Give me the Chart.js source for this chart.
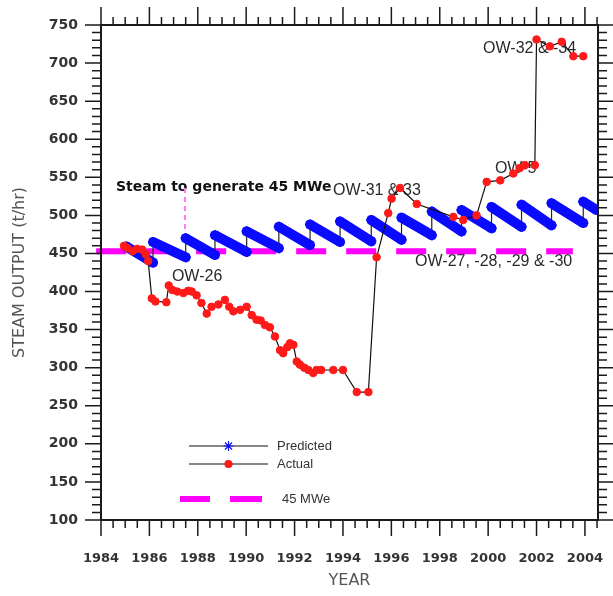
<!DOCTYPE html>
<html>
<head>
<meta charset="utf-8">
<title>Steam output - predicted vs actual</title>
<script src="https://cdn.jsdelivr.net/npm/chart.js@4.4.1/dist/chart.umd.min.js"></script>
<style>
  body { margin: 0; background: #fff; }
  canvas { display: block; }
</style>
</head>
<body>
<canvas id="steamChart" width="613" height="596"></canvas>
<script>
// valores
const xTickYears = [1984, 1986, 1988, 1990, 1992, 1994, 1996, 1998, 2000, 2002, 2004];
const yTickValues = [100, 150, 200, 250, 300, 350, 400, 450, 500, 550, 600, 650, 700, 750];

// previsto: inicio e fim de cada dente da serra
const predictedYears = [
  1985.05, 1986.15, 1986.15, 1987.5, 1987.5, 1988.71, 1988.71, 1990.02,
  1990.02, 1991.35, 1991.35, 1992.64, 1992.64, 1993.88, 1993.88, 1995.17,
  1995.17, 1996.42, 1996.42, 1997.67, 1997.67, 1998.9, 1998.9, 2000.14,
  2000.14, 2001.38, 2001.38, 2002.62, 2002.62, 2003.93, 2003.93, 2004.48
];
const predictedValues = [
  459, 438, 465, 445, 470, 448, 474, 452,
  479, 457, 485, 461, 488, 465, 492, 466,
  494, 468, 497, 474, 505, 479, 507, 483,
  511, 485, 514, 487, 516, 490, 518, 507
];

// medido
const actualYears = [
  1984.95, 1985.1, 1985.3, 1985.5, 1985.7, 1985.85, 1985.95, 1986.1, 1986.25, 1986.7,
  1986.8, 1986.95, 1987.15, 1987.4, 1987.6, 1987.75, 1987.95, 1988.15, 1988.37, 1988.57,
  1988.85, 1989.12, 1989.3, 1989.47, 1989.75, 1990.02, 1990.23, 1990.43, 1990.6, 1990.78,
  1990.98, 1991.19, 1991.4, 1991.53, 1991.7, 1991.81, 1991.95, 1992.09, 1992.22, 1992.4,
  1992.57, 1992.77, 1992.91, 1993.1, 1993.6, 1994.0, 1994.57, 1995.05, 1995.39, 1995.87,
  1996.01, 1996.36, 1997.05, 1998.56, 1998.97, 1999.52, 1999.94, 2000.5, 2001.04, 2001.3,
  2001.52, 2001.93, 2002.0, 2002.55, 2003.04, 2003.52, 2003.93
];
const actualValues = [
  460, 457, 453, 456, 455, 449, 440, 391, 387, 386,
  408, 402, 400, 398, 401, 400, 395, 385, 371, 380,
  383, 389, 380, 374, 376, 380, 369, 363, 362, 356,
  353, 341, 323, 319, 327, 332, 330, 308, 304, 300,
  297, 293, 297, 297, 297, 297, 268, 268, 445, 503,
  522, 536, 515, 498, 494, 500, 544, 546, 555, 562,
  566, 566, 731, 722, 728, 709, 709
];

// linha de 45 MWe
const mweYears = [1983.8, 2003.5];
const mweValues = [453, 453];

// marcador vertical (tracejado) em 1987.5
const markerYears = [1987.47, 1987.47];
const markerValues = [536, 467];

// textos do gráfico
const noteTexts = ['Steam to generate 45 MWe', 'OW-26', 'OW-31 & 33', 'OW-5', 'OW-32 & -34', 'OW-27, -28, -29 & -30'];
const noteYears = [1984.62, 1986.93, 1993.59, 2000.28, 1999.79, 1996.98];
const noteValues = [537, 419, 533, 562, 718.5, 439];

const xMinorStep = 0.5;
const yMinorStep = 10;

function toPoints(xs, ys) {
  return xs.map((x, i) => ({ x: x, y: ys[i] }));
}

// texto das anotações (desenhado por baixo das séries)
const notesPlugin = {
  id: 'notes',
  beforeDatasetsDraw(chart) {
    const { ctx, scales: { x, y } } = chart;
    ctx.save();
    ctx.textBaseline = 'middle';
    ctx.textAlign = 'left';
    noteTexts.forEach((t, i) => {
      if (i === 0) {
        ctx.font = 'bold 14px "DejaVu Sans"';
        ctx.fillStyle = '#111';
      } else {
        ctx.font = '16px "Liberation Sans"';
        ctx.fillStyle = '#2a2a2a';
      }
      ctx.fillText(t, x.getPixelForValue(noteYears[i]), y.getPixelForValue(noteValues[i]));
    });
    ctx.restore();
  }
};

// moldura e marcas de escala nos quatro lados
const framePlugin = {
  id: 'frame',
  afterDatasetsDraw(chart) {
    const { ctx, chartArea: a, scales: { x, y } } = chart;
    ctx.save();
    ctx.strokeStyle = '#1a1a1a';
    ctx.lineWidth = 1.5;
    ctx.beginPath();
    for (let yr = x.min; yr <= x.max + 1e-6; yr += xMinorStep) {
      const px = x.getPixelForValue(yr);
      const major = xTickYears.includes(yr);
      ctx.moveTo(px, a.bottom);
      ctx.lineTo(px, a.bottom + (major ? 16 : 8));
      ctx.moveTo(px, a.top);
      ctx.lineTo(px, a.top - (major ? 18 : 8));
    }
    for (let v = y.min; v <= y.max + 1e-6; v += yMinorStep) {
      const py = y.getPixelForValue(v);
      const major = yTickValues.includes(v);
      ctx.moveTo(a.left, py);
      ctx.lineTo(a.left - (major ? 16 : 9), py);
      ctx.moveTo(a.right, py);
      ctx.lineTo(a.right + (major ? 16 : 9), py);
    }
    ctx.stroke();
    ctx.lineWidth = 2;
    ctx.strokeRect(a.left, a.top, a.right - a.left, a.bottom - a.top);
    ctx.restore();
  }
};

// legenda dentro da área do gráfico
const legendPlugin = {
  id: 'innerLegend',
  afterDatasetsDraw(chart) {
    const { ctx, chartArea: a } = chart;
    const x0 = a.left + 88, x1 = a.left + 167, tx = a.left + 176;
    const rows = [a.top + 421, a.top + 439, a.top + 474];
    ctx.save();
    ctx.font = '13px "Liberation Sans"';
    ctx.textBaseline = 'middle';
    ctx.strokeStyle = '#111';
    ctx.lineWidth = 1.2;
    ctx.beginPath();
    ctx.moveTo(x0, rows[0]); ctx.lineTo(x1, rows[0]);
    ctx.moveTo(x0, rows[1]); ctx.lineTo(x1, rows[1]);
    ctx.stroke();
    const mid = (x0 + x1) / 2;
    ctx.strokeStyle = '#1010ff';
    ctx.fillStyle = '#1010ff';
    Chart.helpers.drawPoint(ctx, { pointStyle: 'star', radius: 5, borderWidth: 2, rotation: 0 }, mid, rows[0]);
    ctx.strokeStyle = '#ff1a1a';
    ctx.fillStyle = '#ff1a1a';
    Chart.helpers.drawPoint(ctx, { pointStyle: 'circle', radius: 3.5, borderWidth: 1, rotation: 0 }, mid, rows[1]);
    ctx.strokeStyle = '#ff00ff';
    ctx.lineWidth = 6;
    ctx.beginPath();
    ctx.moveTo(a.left + 79, rows[2]); ctx.lineTo(a.left + 109, rows[2]);
    ctx.moveTo(a.left + 129, rows[2]); ctx.lineTo(a.left + 161, rows[2]);
    ctx.stroke();
    ctx.fillStyle = '#333';
    ctx.fillText('Predicted', tx, rows[0]);
    ctx.fillText('Actual', tx, rows[1]);
    ctx.fillText('45 MWe', tx + 5, rows[2]);
    ctx.restore();
  }
};

const jump = ctx => ctx.p0.parsed.x === ctx.p1.parsed.x;

const chart = new Chart(document.getElementById('steamChart'), {
  type: 'line',
  data: {
    datasets: [
      {
        label: 'Actual',
        data: toPoints(actualYears, actualValues),
        borderColor: '#111',
        borderWidth: 1.2,
        pointStyle: 'circle',
        pointRadius: 3.8,
        pointBackgroundColor: '#ff1a1a',
        pointBorderColor: '#ff1a1a',
        pointBorderWidth: 1,
        order: 0
      },
      {
        label: 'Predicted',
        data: toPoints(predictedYears, predictedValues),
        borderColor: '#0a0aff',
        borderWidth: 10,
        borderCapStyle: 'round',
        pointStyle: 'star',
        pointRadius: 5,
        pointBorderWidth: 2,
        pointBorderColor: '#0a0aff',
        pointBackgroundColor: '#0a0aff',
        segment: {
          borderColor: c => jump(c) ? '#222' : '#0a0aff',
          borderWidth: c => jump(c) ? 1.2 : 10
        },
        order: 1
      },
      {
        label: '45 MWe',
        data: toPoints(mweYears, mweValues),
        borderColor: '#ff00ff',
        borderWidth: 6,
        borderDash: [30, 20],
        pointRadius: 0,
        clip: false,
        order: 2
      },
      {
        label: 'marker',
        data: toPoints(markerYears, markerValues),
        borderColor: '#ff77ff',
        borderWidth: 2,
        borderDash: [5, 4],
        pointRadius: 0,
        order: 3
      }
    ]
  },
  options: {
    responsive: false,
    animation: false,
    layout: { padding: { top: 25, right: 15, left: 0, bottom: 0 } },
    plugins: {
      legend: { display: false },
      tooltip: { enabled: false }
    },
    scales: {
      x: {
        type: 'linear',
        min: 1984,
        max: 2004.54,
        afterBuildTicks: scale => { scale.ticks = xTickYears.map(v => ({ value: v })); },
        afterFit: scale => {
          scale.height = 76;
          scale.paddingLeft = 0;
          scale.paddingRight = 0;
        },
        grid: { display: false, drawTicks: false },
        border: { display: false },
        ticks: {
          callback: v => String(v),
          font: { family: 'DejaVu Sans', size: 13, weight: 'bold' },
          color: '#333',
          padding: 31,
          maxRotation: 0
        },
        title: {
          display: true,
          text: 'YEAR',
          font: { family: 'DejaVu Sans', size: 16 },
          color: '#555',
          padding: { top: 0, bottom: 6 }
        }
      },
      y: {
        min: 100,
        max: 750,
        afterBuildTicks: scale => { scale.ticks = yTickValues.map(v => ({ value: v })); },
        afterFit: scale => {
          scale.width = 101;
          scale.paddingTop = 0;
          scale.paddingBottom = 0;
        },
        grid: { display: false, drawTicks: false },
        border: { display: false },
        ticks: {
          font: { family: 'DejaVu Sans', size: 14, weight: 'bold' },
          color: '#333',
          padding: 23
        },
        title: {
          display: true,
          text: 'STEAM OUTPUT (t/hr)',
          font: { family: 'DejaVu Sans', size: 16 },
          color: '#555',
          padding: { top: 10, bottom: 0 }
        }
      }
    }
  },
  plugins: [notesPlugin, framePlugin, legendPlugin]
});
</script>
</body>
</html>
